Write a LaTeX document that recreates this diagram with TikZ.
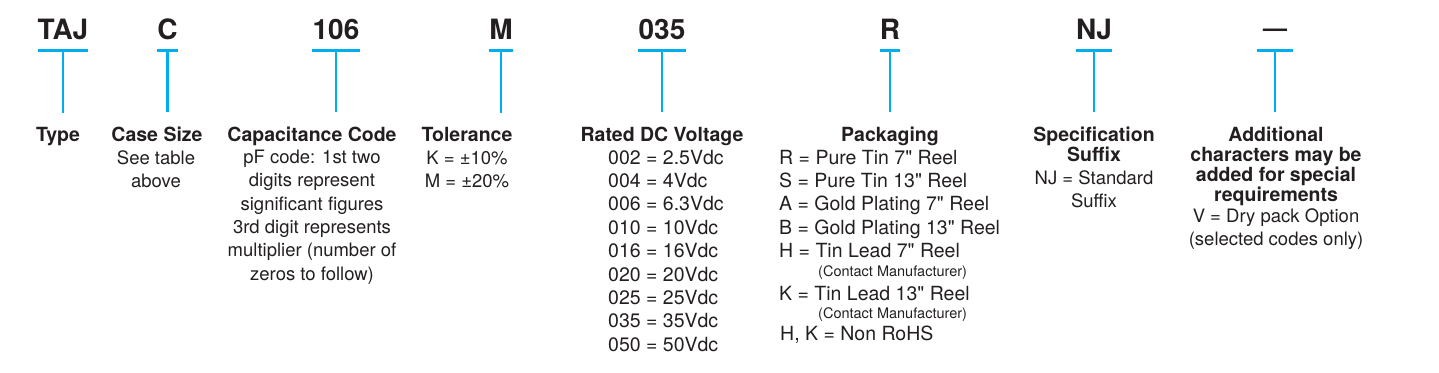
\documentclass[tikz,border=0pt]{standalone}
\usepackage{fontspec}
\setmainfont{TeX Gyre Heros}
\definecolor{cyanbar}{RGB}{0,174,239}
\definecolor{ink}{RGB}{35,31,32}
\newcommand{\inch}{\textquotedbl}
\tikzset{
  every node/.style={text=ink, inner sep=0pt},
  code/.style={font=\fontsize{28}{28}\selectfont\bfseries, inner ysep=11pt, anchor=base},
  head/.style={font=\fontsize{19.5}{20}\selectfont\bfseries, align=center, anchor=base},
  body/.style={font=\fontsize{18.5}{23.3}\selectfont, align=center, anchor=base},
  listing/.style={font=\fontsize{19.5}{23.4}\selectfont, align=left, anchor=base west},
  note/.style={font=\fontsize{14.5}{15}\selectfont, anchor=base west},
  bar/.style={draw=cyanbar, line width=2.7pt},
  stem/.style={draw=cyanbar, line width=2.7pt, shorten >=14pt},
}
\begin{document}
\begin{tikzpicture}[x=1pt,y=-1pt]
\useasboundingbox (0,0) rectangle (1439,372);
% part number
\node[code] (taj) at (63,39) {TAJ};
\node[code] (cse) at (167.5,39) {C};
\node[code] (cap) at (336,39) {106};
\node[code] (tol) at (501,39) {M};
\node[code] (vlt) at (662,39) {035};
\node[code] (pkg) at (890,39) {R};
\node[code] (sfx) at (1094,39) {NJ};
\node[code, font=\fontsize{24}{24}\selectfont\bfseries, inner ysep=13.5pt, minimum width=36pt] (add) at (1275,36.5) {—};
% headings (base = last line)
\node[head] (typh) at (58,141) {Type};
\node[head] (cseh) at (157,141) {Case Size};
\node[head] (caph) at (312,141) {Capacitance Code};
\node[head] (tolh) at (467,141) {Tolerance};
\node[head] (vlth) at (662,141) {Rated DC Voltage};
\node[head] (pkgh) at (890,141) {Packaging};
\node[head] (sfxh) at (1094,161) {Specification\\Suffix};
\node[head] (addh) at (1276,201) {Additional\\characters may be\\added for special\\requirements};
% bars and stems
\draw[bar] (taj.south west) -- (taj.south east);
\draw[stem] (taj.south) -- (taj.south |- typh.north);
\draw[bar] (cse.south west) -- (cse.south east);
\draw[stem] (cse.south) -- (cse.south |- cseh.north);
\draw[bar] (cap.south west) -- (cap.south east);
\draw[stem] (cap.south) -- (cap.south |- caph.north);
\draw[bar] (tol.south west) -- (tol.south east);
\draw[stem] (tol.south) -- (tol.south |- tolh.north);
\draw[bar] (vlt.south west) -- (vlt.south east);
\draw[stem] (vlt.south) -- (vlt.south |- vlth.north);
\draw[bar] (pkg.south west) -- (pkg.south east);
\draw[stem] (pkg.south) -- (pkg.south |- pkgh.north);
\draw[bar] (sfx.south west) -- (sfx.south east);
\draw[stem] (sfx.south) -- (sfx.south |- sfxh.north);
\draw[bar] (add.south west) -- (add.south east);
\draw[stem] (add.south) -- (add.south |- addh.north);
% descriptions (base = last line)
\node[body] (cset) at (156,187.3) {See table\\above};
\node[body] (capt) at (312,280) {pF code: 1st two\\digits represent\\significant figures\\3rd digit represents\\multiplier (number of\\zeros to follow)};
\node[body] (tolt) at (467,187.3) {K = ±10\%\\M = ±20\%};
\node[listing] (vltt) at (608,351.2) {002 = 2.5Vdc\\004 = 4Vdc\\006 = 6.3Vdc\\010 = 10Vdc\\016 = 16Vdc\\020 = 20Vdc\\025 = 25Vdc\\035 = 35Vdc\\050 = 50Vdc};
\node[listing] (pkgt) at (779,257.6) {R = Pure Tin 7\inch{} Reel\\S = Pure Tin 13\inch{} Reel\\A = Gold Plating 7\inch{} Reel\\B = Gold Plating 13\inch{} Reel\\H = Tin Lead 7\inch{} Reel};
\node[note] (pkgh1) at (818,276) {(Contact Manufacturer)};
\node[listing] (pkgk) at (779,300) {K = Tin Lead 13\inch{} Reel};
\node[note] (pkgk1) at (818,318) {(Contact Manufacturer)};
\node[listing] (pkgr) at (780,340) {H, K = Non RoHS};
\node[body] (sfxt) at (1094,207.3) {NJ = Standard\\Suffix};
\node[body] (addt) at (1276,245.5) {V = Dry pack Option\\(selected codes only)};
\end{tikzpicture}
\end{document}
